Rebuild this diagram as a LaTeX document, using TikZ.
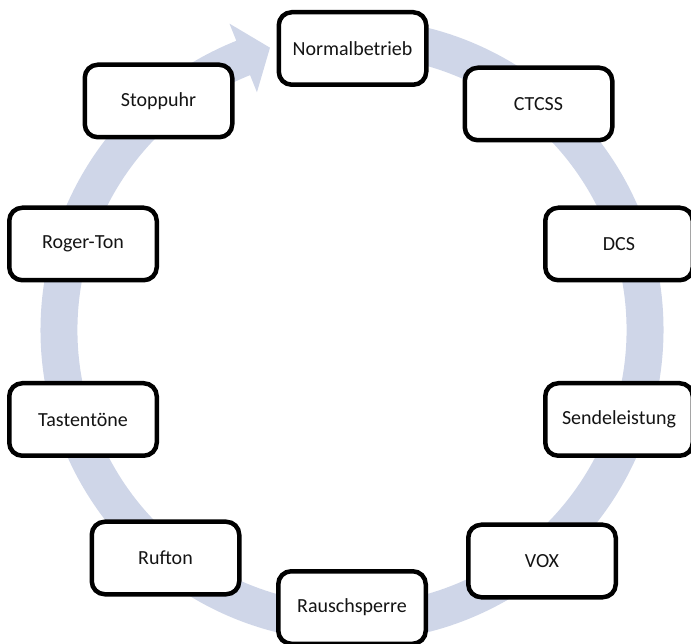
\documentclass[tikz,border=0pt]{standalone}
\usepackage{fontspec}
\setmainfont{Carlito}
\definecolor{ringcol}{RGB}{207,214,232}
\definecolor{txt}{RGB}{20,20,20}
\begin{document}
\begin{tikzpicture}[x=1pt,y=1pt,
  stage/.style={draw=black, line width=4.5pt, rounded corners=13pt, fill=white,
    minimum width=147.5pt, minimum height=72.5pt, inner sep=0pt,
    font=\fontsize{20}{24}\selectfont, text=txt}]
\useasboundingbox (0,0) rectangle (691,643);
\clip (0,0) rectangle (691,643);
\begin{scope}[shift={(352,313)}]
  \fill[ringcol] (85:311.5) arc[start angle=85, end angle=-248.2, radius=311.5]
    -- (-248.2:330) -- (-253.8:294) -- (-248.2:256) -- (-248.2:274.5)
    arc[start angle=-248.2, end angle=85, radius=274.5] -- cycle;
\end{scope}
\node[stage] (n1) at (352.5,594.5) {Normalbetrieb};
\node[stage] (n2) at (538.5,539) {CTCSS};
\node[stage] (n3) at (619,399) {DCS};
\node[stage] (n4) at (619,223.5) {Sendeleistung};
\node[stage] (n5) at (542,82) {VOX};
\node[stage] (n6) at (352,35.5) {Rauschsperre};
\node[stage] (n7) at (165.5,85) {Rufton};
\node[stage] (n8) at (83,223.5) {Tastentöne};
\node[stage] (n9) at (83,399) {Roger-Ton};
\node[stage] (n10) at (158.5,542) {Stoppuhr};
\end{tikzpicture}
\end{document}
